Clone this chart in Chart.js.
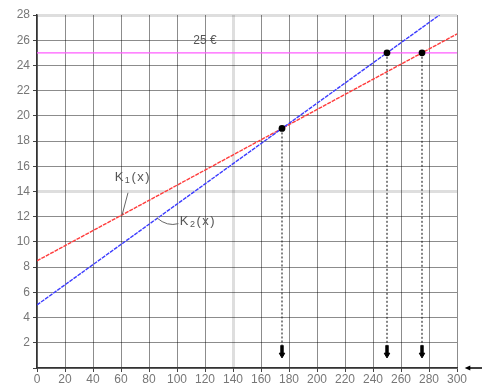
<!DOCTYPE html>
<html>
<head>
<meta charset="utf-8">
<script src="https://cdn.jsdelivr.net/npm/chart.js@4.4.1/dist/chart.umd.min.js"></script>
<style>
html,body{margin:0;padding:0;background:#fff;}
#wrap{width:482px;height:385px;}
</style>
</head>
<body>
<div id="wrap"><canvas id="c" width="482" height="385"></canvas></div>
<script>
// ---- data ----
const k1X = [0, 300];
const k1Y = [8.5, 26.5];
const k2X = [0, 287.5];
const k2Y = [5, 28];
const priceX = [0, 300];
const priceY = [25, 25];
const priceLabel = '25 €';
const markX = [175, 250, 275];
const markY = [19, 25, 25];
const arrowY = 1.6;
const xMin = 0, xMax = 300, xStep = 20;
const yMin = 0, yMax = 28, yStep = 2;

const pts = (xs, ys) => xs.map((x, i) => ({x: x, y: ys[i]}));

const datasets = [
  {label:'price', order:5, data: pts(priceX, priceY), borderColor:'#ff5cff', borderWidth:1.3, pointRadius:0, showLine:true},
  {label:'K1', order:4, data: pts(k1X, k1Y), borderColor:'#ff3c3c', borderWidth:1.4, borderDash:[4,1], pointRadius:0, showLine:true},
  {label:'K2', order:3, data: pts(k2X, k2Y), borderColor:'#3c3cff', borderWidth:1.4, borderDash:[4,1], pointRadius:0, showLine:true}
];
markX.forEach((mx, i) => {
  datasets.push({label:'drop'+i, order:2, data:[{x:mx, y:markY[i]}, {x:mx, y:arrowY}], borderColor:'#222', borderWidth:1.1, borderDash:[2,2], pointRadius:0, showLine:true});
  datasets.push({label:'arrowShaft'+i, order:1, data:[{x:mx, y:arrowY+0.2}, {x:mx, y:arrowY-0.5}], borderColor:'#000', borderWidth:3.5, pointRadius:0, showLine:true});
});
datasets.push({label:'arrowHeads', order:0, data: markX.map(mx => ({x:mx, y:arrowY-0.55})), pointStyle:'triangle', rotation:180, pointRadius:3.2, backgroundColor:'#000', borderColor:'#000', showLine:false});
datasets.push({label:'marks', order:0, data: pts(markX, markY), pointRadius:3.4, borderWidth:0, backgroundColor:'#000', borderColor:'#000', showLine:false});

const annot = {
  id:'annot',
  afterDatasetsDraw(chart){
    const {ctx, scales:{x, y}} = chart;
    const X = v => x.getPixelForValue(v), Y = v => y.getPixelForValue(v);
    ctx.save();
    ctx.fillStyle = '#555';
    ctx.strokeStyle = '#666';
    ctx.font = '12px "Liberation Sans", Arial, sans-serif';
    ctx.textBaseline = 'middle';
    ctx.textAlign = 'center';
    ctx.fillText(priceLabel, X(120), Y(25.95));
    const big = '13px "Liberation Sans", Arial, sans-serif';
    const small = '9px "Liberation Sans", Arial, sans-serif';
    ctx.textAlign = 'left';
    if ('letterSpacing' in ctx) ctx.letterSpacing = '1.5px';
    const drawK = (sub, px, py) => {
      ctx.font = big;
      ctx.fillText('K', px, py);
      let w = ctx.measureText('K').width;
      ctx.font = small;
      ctx.fillText(sub, px + w, py + 3);
      let w2 = ctx.measureText(sub).width;
      ctx.font = big;
      ctx.fillText('(x)', px + w + w2, py);
    };
    drawK('1', X(55.5), Y(15.1));
    drawK('2', X(102), Y(11.6));
    if ('letterSpacing' in ctx) ctx.letterSpacing = '0px';
    // leaders
    ctx.lineWidth = 1;
    ctx.beginPath();
    ctx.moveTo(X(65), Y(13.9)); ctx.lineTo(X(60.7), Y(12.1));
    ctx.stroke();
    ctx.beginPath();
    ctx.moveTo(X(85.7), Y(11.9));
    ctx.quadraticCurveTo(X(93), Y(11.2), X(101), Y(11.45));
    ctx.stroke();
    // x-axis arrow at right
    ctx.strokeStyle = '#000'; ctx.fillStyle = '#000';
    ctx.lineWidth = 1.5;
    const ay = Y(0);
    ctx.beginPath(); ctx.moveTo(X(307), ay); ctx.lineTo(X(318), ay); ctx.stroke();
    ctx.beginPath(); ctx.moveTo(X(305.5), ay); ctx.lineTo(X(309.5), ay - 2.5); ctx.lineTo(X(309.5), ay + 2.5); ctx.closePath(); ctx.fill();
    ctx.restore();
  }
};

new Chart(document.getElementById('c'), {
  type:'scatter',
  data:{datasets},
  plugins:[annot],
  options:{
    responsive:false, maintainAspectRatio:false, animation:false, devicePixelRatio:1,
    layout:{padding:{left:0, right:25, top:15, bottom:0}},
    plugins:{legend:{display:false}, tooltip:{enabled:false}},
    elements:{line:{tension:0}},
    scales:{
      x:{type:'linear', min:xMin, max:xMax,
        ticks:{stepSize:xStep, color:'#777', padding:0, font:{size:12, family:'"Liberation Sans", Arial, sans-serif'}},
        grid:{color: c => (c.tick && c.tick.value === 140) ? 'rgba(0,0,0,0.13)' : 'rgba(0,0,0,0.45)',
              lineWidth: c => (c.tick && c.tick.value === 140) ? 3 : 1,
              tickLength:4, tickColor:'#444', tickWidth:1},
        border:{color:'#333', width:1.5},
        afterFit(s){ s.height = 17; }
      },
      y:{type:'linear', min:yMin, max:yMax,
        ticks:{stepSize:yStep, color:'#777', padding:3, font:{size:12, family:'"Liberation Sans", Arial, sans-serif'}, callback: v => v === 0 ? '' : v},
        grid:{color: c => { const v = c.tick ? c.tick.value : null; return (v === 14 || v === 28) ? 'rgba(0,0,0,0.13)' : 'rgba(0,0,0,0.45)'; },
              lineWidth: c => { const v = c.tick ? c.tick.value : null; return (v === 14 || v === 28) ? 3 : 1; },
              tickLength:4, tickColor:'#444', tickWidth:1},
        border:{color:'#333', width:1.5},
        afterFit(s){ s.width = 37; }
      }
    }
  }
});
</script>
</body>
</html>
